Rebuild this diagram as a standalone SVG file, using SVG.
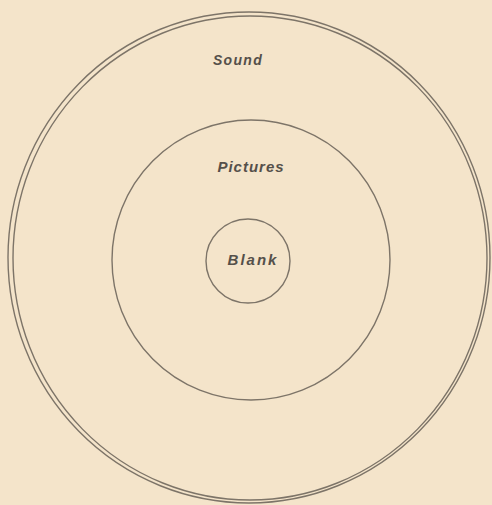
<svg xmlns="http://www.w3.org/2000/svg" width="492" height="505" viewBox="0 0 492 505">
<style>
.ring{fill:none;stroke:#7d7468;stroke-width:1.4}
.lbl{font-family:"Liberation Sans",Arial,sans-serif;font-style:italic;font-weight:bold;fill:#55504a;text-anchor:middle}
</style>
<rect width="492" height="505" fill="#f4e4ca"/>
<g id="outer">
<ellipse class="ring" cx="249" cy="257.5" rx="241" ry="245.5"/>
<ellipse class="ring" cx="250" cy="258" rx="237" ry="242"/>
<text class="lbl" x="238" y="65" font-size="14" letter-spacing="1.3">Sound</text>
</g>
<g id="middle">
<ellipse class="ring" cx="251" cy="260" rx="139" ry="140"/>
<text class="lbl" x="251" y="172" font-size="15" letter-spacing="1">Pictures</text>
</g>
<g id="inner">
<circle class="ring" cx="248" cy="261" r="42"/>
<text class="lbl" x="253" y="265" font-size="15" letter-spacing="2">Blank</text>
</g>
<g id="connectors"/>
</svg>
